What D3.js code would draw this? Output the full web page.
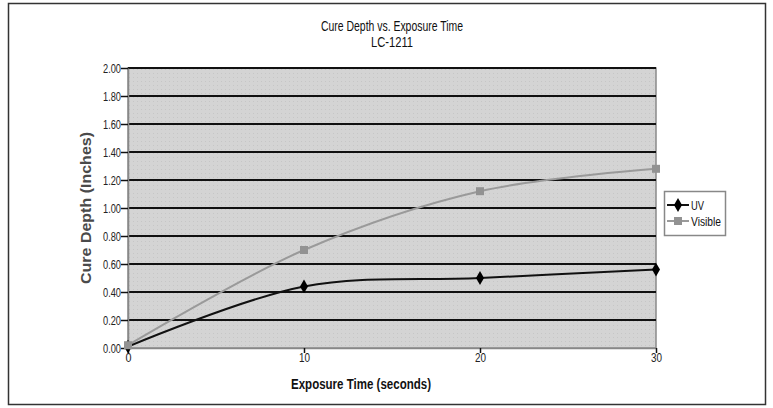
<!DOCTYPE html>
<html><head><meta charset="utf-8">
<script src="https://cdn.jsdelivr.net/npm/d3@7"></script>
<style>
body{margin:0;background:#fff;}
svg{display:block;}
text{font-family:"Liberation Sans Narrow","Arial Narrow","Liberation Sans",Arial,sans-serif;}
</style></head>
<body><svg id="c" width="773" height="408"></svg>
<script>
const times = [0, 10, 20, 30];
const uvDepth = [0.01, 0.44, 0.50, 0.56];
const visibleDepth = [0.02, 0.70, 1.12, 1.28];
const yTicks = [0, 0.2, 0.4, 0.6, 0.8, 1.0, 1.2, 1.4, 1.6, 1.8, 2.0];
const xTicks = [0, 10, 20, 30];
const seriesNames = ["UV", "Visible"];
const titleLines = ["Cure Depth vs. Exposure Time", "LC-1211"];
const xTitle = "Exposure Time (seconds)";
const yTitle = "Cure Depth (Inches)";

const svg = d3.select("#c");
const m = {left:128, right:656, top:68, bottom:348};

const defs = svg.append("defs");
const pat = defs.append("pattern").attr("id","dots").attr("width",4).attr("height",4).attr("patternUnits","userSpaceOnUse");
pat.append("rect").attr("width",4).attr("height",4).attr("fill","#d4d4d4");
pat.append("rect").attr("x",1).attr("y",1).attr("width",1).attr("height",1).attr("fill","#c6c6c6");

// outer border
svg.append("rect").attr("x",8.5).attr("y",3.5).attr("width",757).attr("height",401)
  .attr("fill","#fff").attr("stroke","#333").attr("stroke-width",1.5);

const x = d3.scaleLinear().domain([0,30]).range([m.left, m.right]);
const y = d3.scaleLinear().domain([0,2]).range([m.bottom, m.top]);

svg.append("rect").attr("x",m.left).attr("y",m.top).attr("width",m.right-m.left).attr("height",m.bottom-m.top)
  .attr("fill","url(#dots)").attr("stroke","#8a8a8a").attr("stroke-width",1.5);

// gridlines
svg.append("g").selectAll("line").data(yTicks.filter(d=>d>0)).join("line")
  .attr("x1",m.left).attr("x2",m.right).attr("y1",d=>y(d)).attr("y2",d=>y(d))
  .attr("stroke","#111").attr("stroke-width",2);

// axes
const yAxis = svg.append("g").attr("transform",`translate(${m.left},0)`)
  .call(d3.axisLeft(y).tickValues(yTicks).tickFormat(d3.format(".2f")).tickSize(7).tickSizeOuter(0));
yAxis.select(".domain").attr("stroke","#888").attr("stroke-width",1.5);
yAxis.selectAll(".tick line").attr("stroke","#111").attr("stroke-width",1.5);
yAxis.selectAll(".tick text").attr("font-size",12.5).attr("fill","#222").attr("x",-7)
  .attr("textLength",18).attr("lengthAdjust","spacingAndGlyphs");

const xAxis = svg.append("g").attr("transform",`translate(0,${m.bottom})`)
  .call(d3.axisBottom(x).tickValues(xTicks).tickFormat(d3.format("d")).tickSize(5).tickSizeOuter(0));
xAxis.select(".domain").attr("stroke","#888").attr("stroke-width",1.5);
xAxis.selectAll(".tick text").attr("font-size",12.5).attr("fill","#222").attr("y",5)
  .attr("textLength",d=>d===0?6:11).attr("lengthAdjust","spacingAndGlyphs");
xAxis.selectAll(".tick line").attr("stroke","#111").attr("stroke-width",1.5);

// titles
const tLen = [142, 42];
svg.append("g").selectAll("text").data(titleLines).join("text")
  .attr("x",(m.left+m.right)/2).attr("y",(d,i)=>31+i*16).attr("text-anchor","middle")
  .attr("font-size",14).attr("fill","#111")
  .attr("textLength",(d,i)=>tLen[i]).attr("lengthAdjust","spacingAndGlyphs").text(d=>d);

svg.append("text").attr("x",(m.left+m.right)/2 - 31).attr("y",389).attr("text-anchor","middle")
  .attr("font-size",15).attr("font-weight","bold").attr("fill","#111")
  .attr("textLength",140).attr("lengthAdjust","spacingAndGlyphs").text(xTitle);
svg.append("text").attr("transform",`translate(91,${(m.top+m.bottom)/2}) rotate(-90)`).attr("text-anchor","middle")
  .attr("font-size",14).attr("font-weight","bold").attr("fill","#4a4a4a")
  .attr("textLength",152).attr("lengthAdjust","spacingAndGlyphs").text(yTitle);

// lines
const line = d3.line().x(d=>x(d[0])).y(d=>y(d[1])).curve(d3.curveCatmullRom.alpha(0.5));
const uvPts = times.map((t,i)=>[t,uvDepth[i]]);
const visPts = times.map((t,i)=>[t,visibleDepth[i]]);

svg.append("path").datum(visPts).attr("d",line).attr("fill","none").attr("stroke","#9a9a9a").attr("stroke-width",2);
svg.append("path").datum(uvPts).attr("d",line).attr("fill","none").attr("stroke","#111").attr("stroke-width",2);

const sq = d3.symbol().type(d3.symbolSquare).size(64);
const dia = d3.symbol().type(d3.symbolDiamond).size(56);
svg.append("g").selectAll("path").data(uvPts).join("path")
  .attr("transform",d=>`translate(${x(d[0])},${y(d[1])})`).attr("d",dia).attr("fill","#000");
svg.append("g").selectAll("path").data(visPts).join("path")
  .attr("transform",d=>`translate(${x(d[0])},${y(d[1])})`).attr("d",sq).attr("fill","#929292");

// legend
const lg = svg.append("g").attr("transform","translate(664,191)");
lg.append("rect").attr("x",0.5).attr("y",0.5).attr("width",61).attr("height",44)
  .attr("fill","#fff").attr("stroke","#888").attr("stroke-width",1.5);
const items = [{name:seriesNames[0],color:"#111",sym:dia,fill:"#000",len:13},{name:seriesNames[1],color:"#9a9a9a",sym:sq,fill:"#929292",len:30}];
items.forEach((it,i)=>{
  const yy = 14 + i*16;
  lg.append("line").attr("x1",3).attr("x2",25).attr("y1",yy).attr("y2",yy).attr("stroke",it.color).attr("stroke-width",2);
  lg.append("path").attr("transform",`translate(14,${yy})`).attr("d",it.sym).attr("fill",it.fill);
  lg.append("text").attr("x",27).attr("y",yy+4.5).attr("font-size",13).attr("fill","#111")
    .attr("textLength",it.len).attr("lengthAdjust","spacingAndGlyphs").text(it.name);
});
</script></body></html>
